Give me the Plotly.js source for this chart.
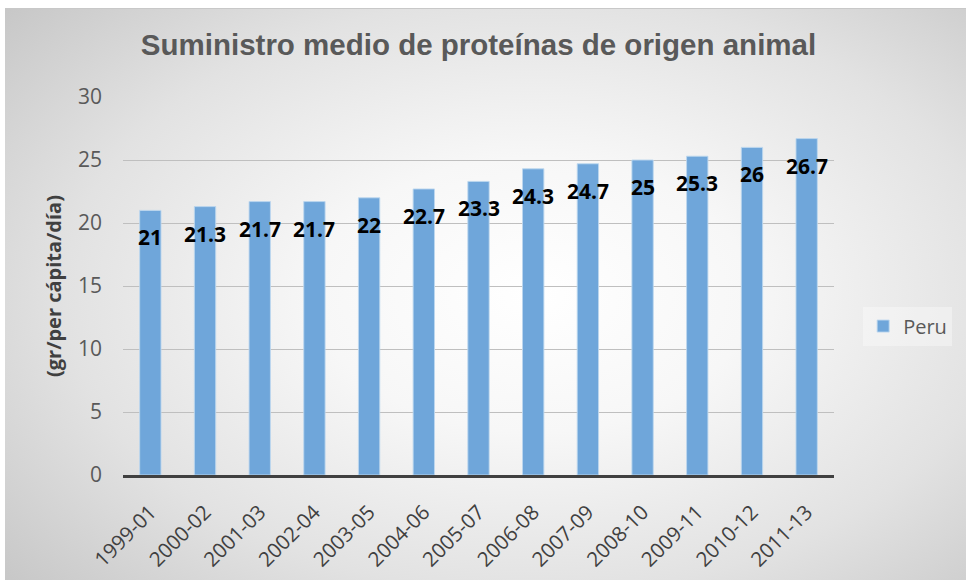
<!DOCTYPE html>
<html>
<head>
<meta charset="utf-8">
<script src="https://cdn.plot.ly/plotly-3.0.1.min.js"></script>
<style>
  html, body { margin: 0; padding: 0; background: #ffffff; }
  #wrap {
    position: absolute; left: 5px; top: 8px; width: 961px; height: 572px;
    background: radial-gradient(ellipse 75% 80% at 55% 50%, #ffffff 0%, #f7f7f7 30%, #e2e2e2 65%, #c4c4c4 100%);
    border-top: 1px solid #c8c8c8;
  }
  #chart { width: 961px; height: 572px; }
</style>
</head>
<body>
<div id="wrap"><div id="chart"></div></div>
<script>
const categories = ["1999-01","2000-02","2001-03","2002-04","2003-05","2004-06","2005-07","2006-08","2007-09","2008-10","2009-11","2010-12","2011-13"];
const values = [21, 21.3, 21.7, 21.7, 22, 22.7, 23.3, 24.3, 24.7, 25, 25.3, 26, 26.7];
const labels = ["21","21.3","21.7","21.7","22","22.7","23.3","24.3","24.7","25","25.3","26","26.7"];
const seriesName = "Peru";
const yTicks = [0, 5, 10, 15, 20, 25, 30];

const trace = {
  type: "bar",
  x: categories,
  y: values,
  name: seriesName,
  marker: { color: "#6fa6da", line: { color: "rgba(189,215,238,0.9)", width: 1 } },
  hoverinfo: "skip"
};

const annotations = categories.map((c, i) => ({
  x: c, y: values[i], xref: "x", yref: "y",
  text: labels[i], showarrow: false, yshift: -27,
  font: { family: "Open Sans", size: 21, color: "#000000", weight: "bold" }
}));

const layout = {
  width: 961, height: 572,
  paper_bgcolor: "rgba(0,0,0,0)",
  plot_bgcolor: "rgba(0,0,0,0)",
  margin: { l: 118, r: 132, t: 88, b: 106 },
  bargap: 0.61,
  showlegend: true,
  title: {
    text: "<b>Suministro medio de proteínas de origen animal</b>",
    font: { family: "Liberation Sans", size: 29.5, color: "#595959" },
    x: 0.5, xref: "paper", xanchor: "center",
    y: 1 - 36 / 572, yref: "container", yanchor: "middle"
  },
  xaxis: {
    type: "category",
    tickangle: -45,
    tickfont: { family: "Open Sans", size: 20.5, color: "#404040" },
    showgrid: false,
    showline: true, linecolor: "#404040", linewidth: 3,
    ticks: "", ticklabelstandoff: 14
  },
  yaxis: {
    range: [0, 30],
    tickvals: yTicks,
    tickfont: { family: "Open Sans", size: 21, color: "#595959" },
    showgrid: true, gridcolor: "#bfbfbf", gridwidth: 1,
    zeroline: false, showline: false, ticks: "",
    ticklabelstandoff: 20,
    title: {
      text: "<b>(gr/per cápita/día)</b>",
      font: { family: "Open Sans", size: 20, color: "#404040" },
      standoff: 10
    }
  },
  legend: {
    x: 1.041, xanchor: "left", y: 0.394, yanchor: "middle",
    bgcolor: "rgba(255,255,255,0.35)",
    font: { family: "Open Sans", size: 20, color: "#595959" },
    itemwidth: 30
  },
  annotations: annotations
};

Plotly.newPlot("chart", [trace], layout, { displayModeBar: false, staticPlot: true });
</script>
</body>
</html>
